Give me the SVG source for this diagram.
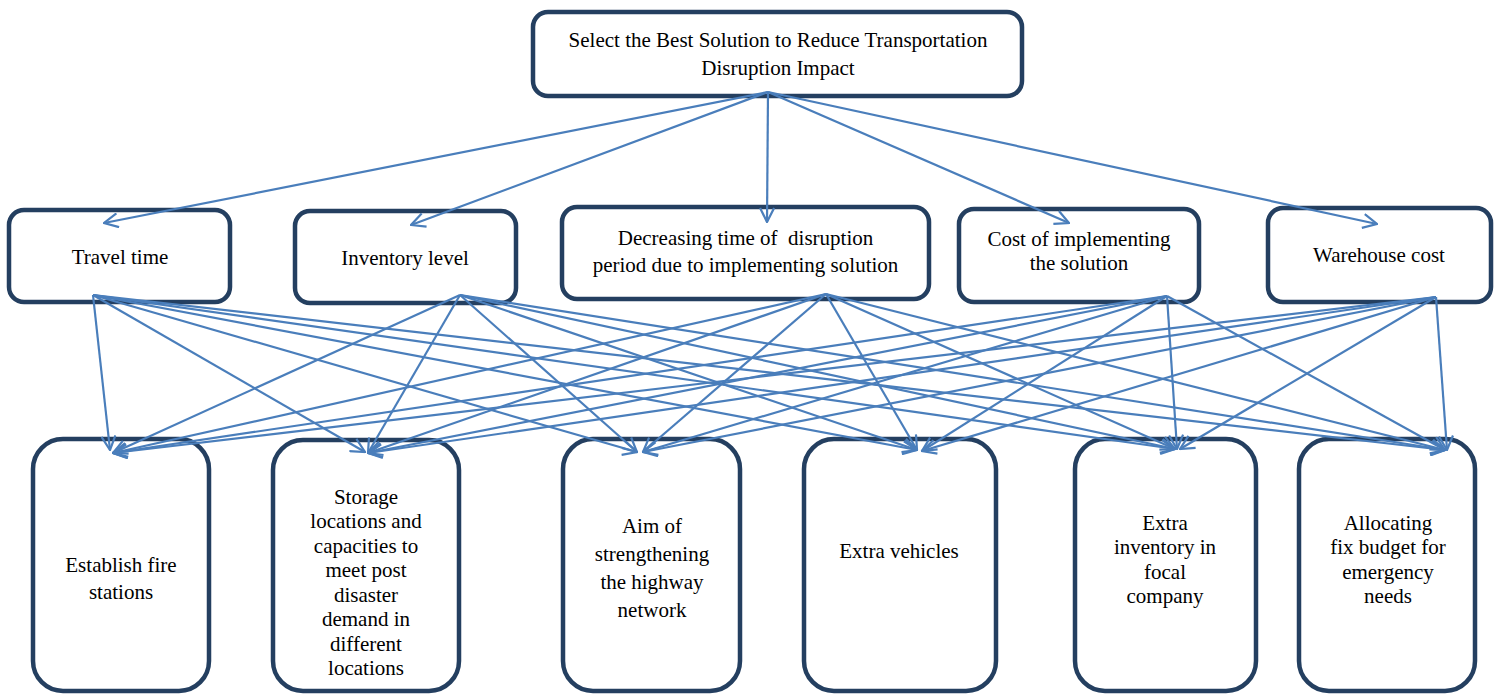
<svg xmlns="http://www.w3.org/2000/svg" width="1496" height="694" viewBox="0 0 1496 694">
<style>
.box{fill:#ffffff;stroke:#243f60;stroke-width:4.5}
.t{font-family:"Liberation Serif","Times New Roman",serif;font-size:21px;fill:#000000;text-anchor:middle}
.c{stroke:#4a7ebb;stroke-width:2.2;fill:none;marker-end:url(#ah)}
</style>
<defs>
<marker id="ah" markerUnits="userSpaceOnUse" viewBox="0 0 16 16" markerWidth="16" markerHeight="16" refX="15" refY="8" orient="auto">
<path d="M1,1 L15,8 L1,15" fill="none" stroke="#4a7ebb" stroke-width="2.2"/>
</marker>
</defs>
<rect width="1496" height="694" fill="#ffffff"/>
<g id="goal">
<rect class="box" x="533" y="12" width="489" height="84" rx="15"/>
<text class="t" x="778" y="47">Select the Best Solution to Reduce Transportation</text>
<text class="t" x="778" y="75">Disruption Impact</text>
</g>
<g id="travel-time">
<rect class="box" x="9" y="210" width="221" height="92" rx="15"/>
<text class="t" x="120" y="264">Travel time</text>
</g>
<g id="inventory-level">
<rect class="box" x="295" y="211" width="221" height="92" rx="15"/>
<text class="t" x="405" y="265">Inventory level</text>
</g>
<g id="decreasing-time">
<rect class="box" x="562" y="207" width="367" height="92" rx="15"/>
<text class="t" x="745.5" y="245" style="white-space:pre">Decreasing time of  disruption</text>
<text class="t" x="745.5" y="272">period due to implementing solution</text>
</g>
<g id="cost-implementing">
<rect class="box" x="959" y="209" width="240" height="93" rx="15"/>
<text class="t" x="1079" y="246">Cost of implementing</text>
<text class="t" x="1079" y="270">the solution</text>
</g>
<g id="warehouse-cost">
<rect class="box" x="1268" y="208" width="223" height="94" rx="15"/>
<text class="t" x="1379" y="262">Warehouse cost</text>
</g>
<g id="fire-stations">
<rect class="box" x="33" y="439" width="176" height="252" rx="30"/>
<text class="t" x="121" y="572">Establish fire</text>
<text class="t" x="121" y="599">stations</text>
</g>
<g id="storage-locations">
<rect class="box" x="273" y="440" width="186" height="251" rx="30"/>
<text class="t" x="366" y="504">Storage</text>
<text class="t" x="366" y="528">locations and</text>
<text class="t" x="366" y="553">capacities to</text>
<text class="t" x="366" y="577">meet post</text>
<text class="t" x="366" y="602">disaster</text>
<text class="t" x="366" y="626">demand in</text>
<text class="t" x="366" y="651">different</text>
<text class="t" x="366" y="675">locations</text>
</g>
<g id="highway-network">
<rect class="box" x="563" y="439" width="177" height="252" rx="30"/>
<text class="t" x="652" y="533">Aim of</text>
<text class="t" x="652" y="561">strengthening</text>
<text class="t" x="652" y="589">the highway</text>
<text class="t" x="652" y="617">network</text>
</g>
<g id="extra-vehicles">
<rect class="box" x="804" y="439" width="192" height="252" rx="30"/>
<text class="t" x="899" y="558">Extra vehicles</text>
</g>
<g id="extra-inventory">
<rect class="box" x="1075" y="439" width="181" height="252" rx="30"/>
<text class="t" x="1165" y="530">Extra</text>
<text class="t" x="1165" y="554">inventory in</text>
<text class="t" x="1165" y="579">focal</text>
<text class="t" x="1165" y="603">company</text>
</g>
<g id="fix-budget">
<rect class="box" x="1299" y="439" width="176" height="252" rx="30"/>
<text class="t" x="1388" y="530">Allocating</text>
<text class="t" x="1388" y="554">fix budget for</text>
<text class="t" x="1388" y="579">emergency</text>
<text class="t" x="1388" y="603">needs</text>
</g>
<g id="connectors">
<line class="c" x1="768" y1="92" x2="104" y2="223"/>
<line class="c" x1="768" y1="92" x2="411" y2="225"/>
<line class="c" x1="768" y1="92" x2="767" y2="222"/>
<line class="c" x1="768" y1="92" x2="1069" y2="223"/>
<line class="c" x1="768" y1="92" x2="1377" y2="224"/>

<line class="c" x1="93" y1="295" x2="110" y2="450"/>
<line class="c" x1="93" y1="295" x2="365" y2="452"/>
<line class="c" x1="93" y1="295" x2="637" y2="452"/>
<line class="c" x1="93" y1="295" x2="917" y2="450"/>
<line class="c" x1="93" y1="295" x2="1175" y2="449"/>
<line class="c" x1="93" y1="295" x2="1445" y2="450"/>

<line class="c" x1="460" y1="295" x2="113" y2="453"/>
<line class="c" x1="460" y1="295" x2="368" y2="453"/>
<line class="c" x1="460" y1="295" x2="637" y2="452"/>
<line class="c" x1="460" y1="295" x2="917" y2="450"/>
<line class="c" x1="460" y1="295" x2="1175" y2="449"/>
<line class="c" x1="460" y1="295" x2="1445" y2="450"/>

<line class="c" x1="826" y1="294" x2="113" y2="453"/>
<line class="c" x1="826" y1="294" x2="368" y2="453"/>
<line class="c" x1="826" y1="294" x2="643" y2="452"/>
<line class="c" x1="826" y1="294" x2="917" y2="450"/>
<line class="c" x1="826" y1="294" x2="1175" y2="449"/>
<line class="c" x1="826" y1="294" x2="1445" y2="450"/>

<line class="c" x1="1167" y1="296" x2="113" y2="453"/>
<line class="c" x1="1167" y1="296" x2="368" y2="453"/>
<line class="c" x1="1167" y1="296" x2="643" y2="452"/>
<line class="c" x1="1167" y1="296" x2="922" y2="451"/>
<line class="c" x1="1167" y1="296" x2="1177" y2="449"/>
<line class="c" x1="1167" y1="296" x2="1445" y2="450"/>

<line class="c" x1="1436" y1="297" x2="113" y2="453"/>
<line class="c" x1="1436" y1="297" x2="368" y2="453"/>
<line class="c" x1="1436" y1="297" x2="643" y2="452"/>
<line class="c" x1="1436" y1="297" x2="922" y2="451"/>
<line class="c" x1="1436" y1="297" x2="1180" y2="449"/>
<line class="c" x1="1436" y1="297" x2="1447" y2="450"/>
</g>
</svg>
